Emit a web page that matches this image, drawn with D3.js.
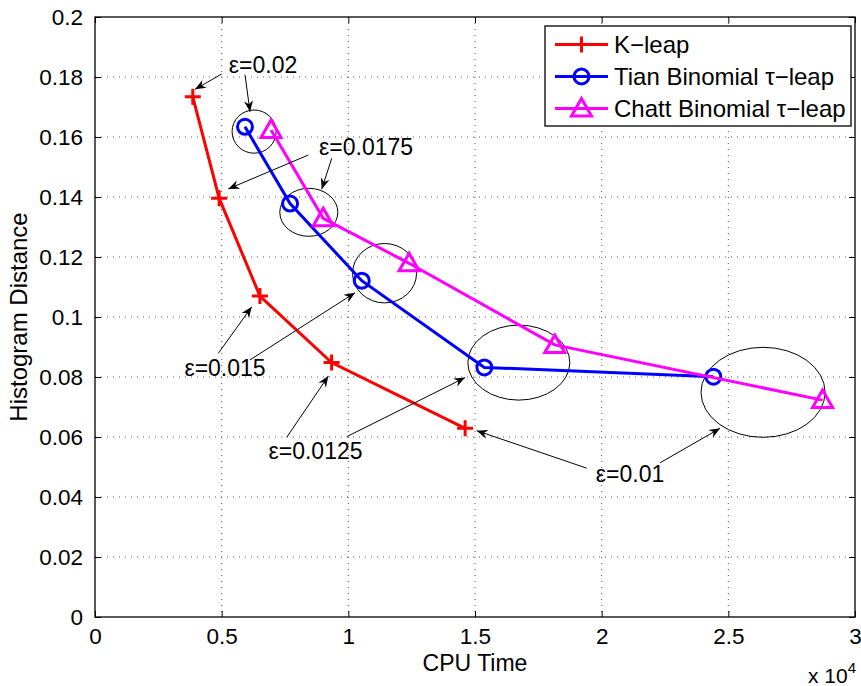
<!DOCTYPE html>
<html>
<head>
<meta charset="utf-8">
<script src="https://cdn.jsdelivr.net/npm/d3@7"></script>
<style>
  body { margin: 0; background: #fff; }
  text { font-family: "Liberation Sans", Arial, Helvetica, sans-serif; fill: #000; }
</style>
</head>
<body>
<div class="container"></div>
<script>
// CPU time (x 10^4 shown on the axis) vs histogram distance, one point per epsilon
const epsilons = ["0.02", "0.0175", "0.015", "0.0125", "0.01"];

const kleapTime = [3860, 4900, 6510, 9340, 14610];
const kleapDist = [0.1734, 0.1396, 0.1070, 0.0848, 0.0629];

const tianTime = [5920, 7700, 10530, 15370, 24410];
const tianDist = [0.1634, 0.1378, 0.1121, 0.0832, 0.0801];

const chattTime = [6950, 9010, 12400, 18150, 28720];
const chattDist = [0.1623, 0.1329, 0.1179, 0.0907, 0.0723];

const seriesNames = ["K\u2212leap", "Tian Binomial \u03c4\u2212leap", "Chatt Binomial \u03c4\u2212leap"];

const xTicks = [0, 5000, 10000, 15000, 20000, 25000, 30000];
const xTickLabels = ["0", "0.5", "1", "1.5", "2", "2.5", "3"];
const yTicks = [0, 0.02, 0.04, 0.06, 0.08, 0.1, 0.12, 0.14, 0.16, 0.18, 0.2];
const yTickLabels = ["0", "0.02", "0.04", "0.06", "0.08", "0.1", "0.12", "0.14", "0.16", "0.18", "0.2"];

// ellipses grouping points of the same epsilon (centre and radii in data units)
const ellipseX = [6280, 8440, 11430, 16730, 26370];
const ellipseY = [0.1618, 0.1349, 0.1146, 0.0848, 0.0749];
const ellipseRx = [869, 1145, 1263, 2013, 2448];
const ellipseRy = [0.0072, 0.0080, 0.0099, 0.0125, 0.0150];

// epsilon labels (text centre, data units)
const labelX = [6632, 10699, 5132, 8705, 21121];
const labelY = [0.1840, 0.1567, 0.0830, 0.0553, 0.0477];

// two arrows per label: [tailX, tailY, headX, headY]
const arrows = [
  [[5002, 0.1810, 3948, 0.1759], [5922, 0.1807, 6119, 0.1684]],
  [[8421, 0.1540, 5263, 0.1427], [9345, 0.1529, 8950, 0.1426]],
  [[4868, 0.0879, 6187, 0.1034], [6119, 0.0857, 10265, 0.1081]],
  [[7568, 0.0599, 9211, 0.0803], [9937, 0.0601, 14608, 0.0798]],
  [[19412, 0.0496, 15069, 0.0621], [22306, 0.0514, 24675, 0.0629]]
];

const margin = { top: 17, right: 6, bottom: 69, left: 95 };
const W = 861, H = 686;
const width = W - margin.left - margin.right;
const height = H - margin.top - margin.bottom;

const svg = d3.select(".container")
  .append("svg")
  .attr("width", W)
  .attr("height", H);

const g = svg.append("g")
  .attr("transform", `translate(${margin.left},${margin.top})`);

const x = d3.scaleLinear().domain([0, 30000]).range([0, width]);
const y = d3.scaleLinear().domain([0, 0.2]).range([height, 0]);

// dotted grid
g.append("g")
  .selectAll("line")
  .data(xTicks.slice(1, -1))
  .join("line")
  .attr("x1", d => x(d)).attr("x2", d => x(d))
  .attr("y1", 0).attr("y2", height)
  .attr("stroke", "#555").attr("stroke-width", 1)
  .attr("stroke-dasharray", "1,5");

g.append("g")
  .selectAll("line")
  .data(yTicks.slice(1, -1))
  .join("line")
  .attr("y1", d => y(d)).attr("y2", d => y(d))
  .attr("x1", 0).attr("x2", width)
  .attr("stroke", "#555").attr("stroke-width", 1)
  .attr("stroke-dasharray", "1,5");

// axes with inward ticks on all sides
const fmtX = (d) => xTickLabels[xTicks.indexOf(d)];
const fmtY = (d) => yTickLabels[yTicks.indexOf(d)];

g.append("g")
  .attr("transform", `translate(0,${height})`)
  .call(d3.axisBottom(x).tickValues(xTicks).tickFormat(fmtX).tickSizeInner(-6).tickSizeOuter(0).tickPadding(11));
g.append("g")
  .call(d3.axisLeft(y).tickValues(yTicks).tickFormat(fmtY).tickSizeInner(-6).tickSizeOuter(0).tickPadding(12));
g.append("g")
  .call(d3.axisTop(x).tickValues(xTicks).tickFormat("").tickSizeInner(-6).tickSizeOuter(0));
g.append("g")
  .attr("transform", `translate(${width},0)`)
  .call(d3.axisRight(y).tickValues(yTicks).tickFormat("").tickSizeInner(-6).tickSizeOuter(0));

g.selectAll(".domain").remove();
g.selectAll(".tick line").attr("stroke", "#000");
g.selectAll(".tick text").attr("font-size", 22.5).attr("fill", "#000");

g.append("rect")
  .attr("width", width).attr("height", height)
  .attr("fill", "none").attr("stroke", "#000").attr("stroke-width", 1.3);

// axis labels
g.append("text")
  .attr("x", width / 2).attr("y", height + 54)
  .attr("text-anchor", "middle").attr("font-size", 23)
  .text("CPU Time");

g.append("text")
  .attr("transform", `translate(${-68},${height / 2}) rotate(-90)`)
  .attr("text-anchor", "middle").attr("font-size", 24)
  .text("Histogram Distance");

const mult = g.append("text")
  .attr("x", width - 47).attr("y", height + 66)
  .attr("font-size", 21);
mult.append("tspan").text("x 10");
mult.append("tspan").attr("dy", -10).attr("font-size", 15).text("4");

// ellipses
g.append("g")
  .selectAll("ellipse")
  .data(d3.range(ellipseX.length))
  .join("ellipse")
  .attr("cx", i => x(ellipseX[i]))
  .attr("cy", i => y(ellipseY[i]))
  .attr("rx", i => x(ellipseRx[i]) - x(0))
  .attr("ry", i => y(0) - y(ellipseRy[i]))
  .attr("fill", "none").attr("stroke", "#000").attr("stroke-width", 1);

// series
const line = d3.line().x(d => x(d[0])).y(d => y(d[1]));
const series = [
  { name: seriesNames[0], color: "#ff0000", marker: "plus", pts: d3.zip(kleapTime, kleapDist) },
  { name: seriesNames[1], color: "#0000ff", marker: "circle", pts: d3.zip(tianTime, tianDist) },
  { name: seriesNames[2], color: "#ff00ff", marker: "tri", pts: d3.zip(chattTime, chattDist) }
];

function drawMarker(sel, type, color) {
  if (type === "plus") {
    sel.append("path").attr("d", "M-8,0H8M0,-8V8")
      .attr("stroke", color).attr("stroke-width", 3).attr("fill", "none");
  } else if (type === "circle") {
    sel.append("circle").attr("r", 7.5)
      .attr("stroke", color).attr("stroke-width", 3).attr("fill", "none");
  } else {
    sel.append("path").attr("d", "M0,-10L10,7.5L-10,7.5Z")
      .attr("stroke", color).attr("stroke-width", 3).attr("fill", "none")
      .attr("stroke-linejoin", "miter");
  }
}

series.forEach(s => {
  g.append("path")
    .datum(s.pts)
    .attr("d", line)
    .attr("fill", "none").attr("stroke", s.color).attr("stroke-width", 3);
  s.pts.forEach(p => {
    const m = g.append("g").attr("transform", `translate(${x(p[0])},${y(p[1])})`);
    drawMarker(m, s.marker, s.color);
  });
});

// arrowhead
svg.append("defs").append("marker")
  .attr("id", "head")
  .attr("viewBox", "-12 -6 14 12")
  .attr("refX", 0).attr("refY", 0)
  .attr("markerWidth", 14).attr("markerHeight", 12)
  .attr("markerUnits", "userSpaceOnUse")
  .attr("orient", "auto")
  .append("path")
  .attr("d", "M0,0L-11,-4.5L-7.5,0L-11,4.5Z")
  .attr("fill", "#000");

// annotations
arrows.forEach(pair => {
  pair.forEach(a => {
    g.append("line")
      .attr("x1", x(a[0])).attr("y1", y(a[1]))
      .attr("x2", x(a[2])).attr("y2", y(a[3]))
      .attr("stroke", "#000").attr("stroke-width", 1)
      .attr("marker-end", "url(#head)");
  });
});

g.append("g")
  .selectAll("text")
  .data(epsilons)
  .join("text")
  .attr("x", (d, i) => x(labelX[i]))
  .attr("y", (d, i) => y(labelY[i]))
  .attr("dy", "0.36em")
  .attr("text-anchor", "middle")
  .attr("font-size", 23)
  .text(d => "\u03b5=" + d);

// legend
const lg = svg.append("g").attr("transform", "translate(545,26)");
lg.append("rect")
  .attr("width", 306).attr("height", 100)
  .attr("fill", "#fff").attr("stroke", "#000").attr("stroke-width", 1.3);
series.forEach((s, i) => {
  const ly = 18.5 + i * 32;
  lg.append("line")
    .attr("x1", 10).attr("x2", 63).attr("y1", ly).attr("y2", ly)
    .attr("stroke", s.color).attr("stroke-width", 3);
  const m = lg.append("g").attr("transform", `translate(36.5,${ly})`);
  drawMarker(m, s.marker, s.color);
  lg.append("text")
    .attr("x", 69).attr("y", ly).attr("dy", "0.36em")
    .attr("font-size", 24)
    .text(s.name);
});
</script>
</body>
</html>
